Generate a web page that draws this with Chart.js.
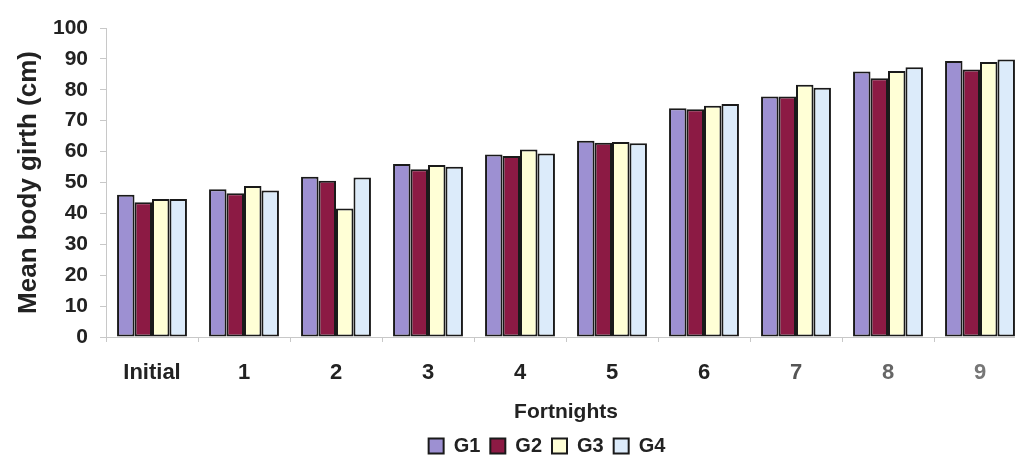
<!DOCTYPE html>
<html>
<head>
<meta charset="utf-8">
<script src="https://cdn.jsdelivr.net/npm/chart.js@4/dist/chart.umd.min.js"></script>
<style>
  html, body { margin: 0; padding: 0; background: #fff; overflow: hidden; }
  #wrap { width: 1030px; height: 463px; position: relative; }
</style>
</head>
<body>
<div id="wrap"><canvas id="girth"></canvas></div>
<script>
// mean body girth per group, by fortnight
const fortnights = ["Initial", "1", "2", "3", "4", "5", "6", "7", "8", "9"];
const g1 = [46.0, 47.8, 51.9, 56.0, 59.1, 63.5, 74.0, 77.8, 85.9, 89.3];
const g2 = [43.6, 46.5, 50.6, 54.3, 58.6, 62.9, 73.7, 77.8, 83.7, 86.6];
const g3 = [44.7, 48.9, 41.6, 55.7, 60.7, 63.1, 74.8, 81.6, 86.1, 89.0];
const g4 = [44.7, 47.4, 51.6, 55.1, 59.4, 62.7, 75.4, 80.7, 87.3, 89.8];
const yTicks = [0, 10, 20, 30, 40, 50, 60, 70, 80, 90, 100];

const groups = [
    { label: "G1", data: g1, color: "#9d90d2" },
    { label: "G2", data: g2, color: "#8c1a44" },
    { label: "G3", data: g3, color: "#ffffd6" },
    { label: "G4", data: g4, color: "#dcebfa" },
];

const FONT = "'Liberation Sans', Arial, sans-serif";
const TEXT = "#222";
const AXIS = "#c8c8c8";

// nudge the legend a bit left and down from where the layout puts it
const legendNudge = {
    id: "legendNudge",
    afterLayout(chart) {
        const lg = chart.legend;
        if (!lg) return;
        lg.left -= 19;
        lg.right -= 19;
        lg.top += 3;
        lg.bottom += 3;
    },
};

new Chart(document.getElementById("girth"), {
    type: "bar",
    data: {
        labels: fortnights,
        datasets: groups.map((g) => ({
            label: g.label,
            data: g.data,
            backgroundColor: g.color,
            borderColor: "#1a1a1a",
            borderWidth: 2,
            borderSkipped: false,
            barPercentage: 1,
            categoryPercentage: 0.76,
        })),
    },
    options: {
        responsive: true,
        maintainAspectRatio: false,
        animation: false,
        layout: { padding: { top: 28, left: 0, right: 4, bottom: 0 } },
        plugins: {
            tooltip: { enabled: false },
            legend: {
                position: "bottom",
                fullSize: false,
                labels: {
                    color: TEXT,
                    font: { family: FONT, size: 20, weight: "bold" },
                    boxWidth: 15,
                    boxHeight: 15,
                    padding: 10,
                },
            },
        },
        scales: {
            x: {
                grid: {
                    offset: true,
                    drawOnChartArea: false,
                    drawTicks: true,
                    tickLength: 5,
                    color: AXIS,
                },
                border: { color: AXIS, width: 1 },
                ticks: {
                    padding: 18,
                    maxRotation: 0,
                    color: ["#222", "#222", "#222", "#222", "#222", "#222", "#222", "#555", "#666", "#777"],
                    font: { family: FONT, size: 22, weight: "bold" },
                },
                title: {
                    display: true,
                    text: "Fortnights",
                    color: TEXT,
                    font: { family: FONT, size: 21, weight: "bold" },
                    padding: { top: 0, bottom: -2 },
                },
                afterFit(scale) {
                    scale.height = 86;
                },
            },
            y: {
                min: 0,
                max: 100,
                afterBuildTicks(scale) {
                    scale.ticks = yTicks.map((v) => ({ value: v }));
                },
                grid: {
                    drawOnChartArea: false,
                    drawTicks: true,
                    tickLength: 6,
                    color: AXIS,
                },
                border: { color: AXIS, width: 1 },
                ticks: {
                    padding: 12,
                    color: TEXT,
                    font: { family: FONT, size: 21, weight: "bold" },
                },
                title: {
                    display: true,
                    text: "Mean body girth (cm)",
                    color: TEXT,
                    font: { family: FONT, size: 26, weight: "bold" },
                    padding: { top: 13, bottom: 0 },
                },
                afterFit(scale) {
                    scale.width = 106;
                },
            },
        },
    },
    plugins: [legendNudge],
});
</script>
</body>
</html>
